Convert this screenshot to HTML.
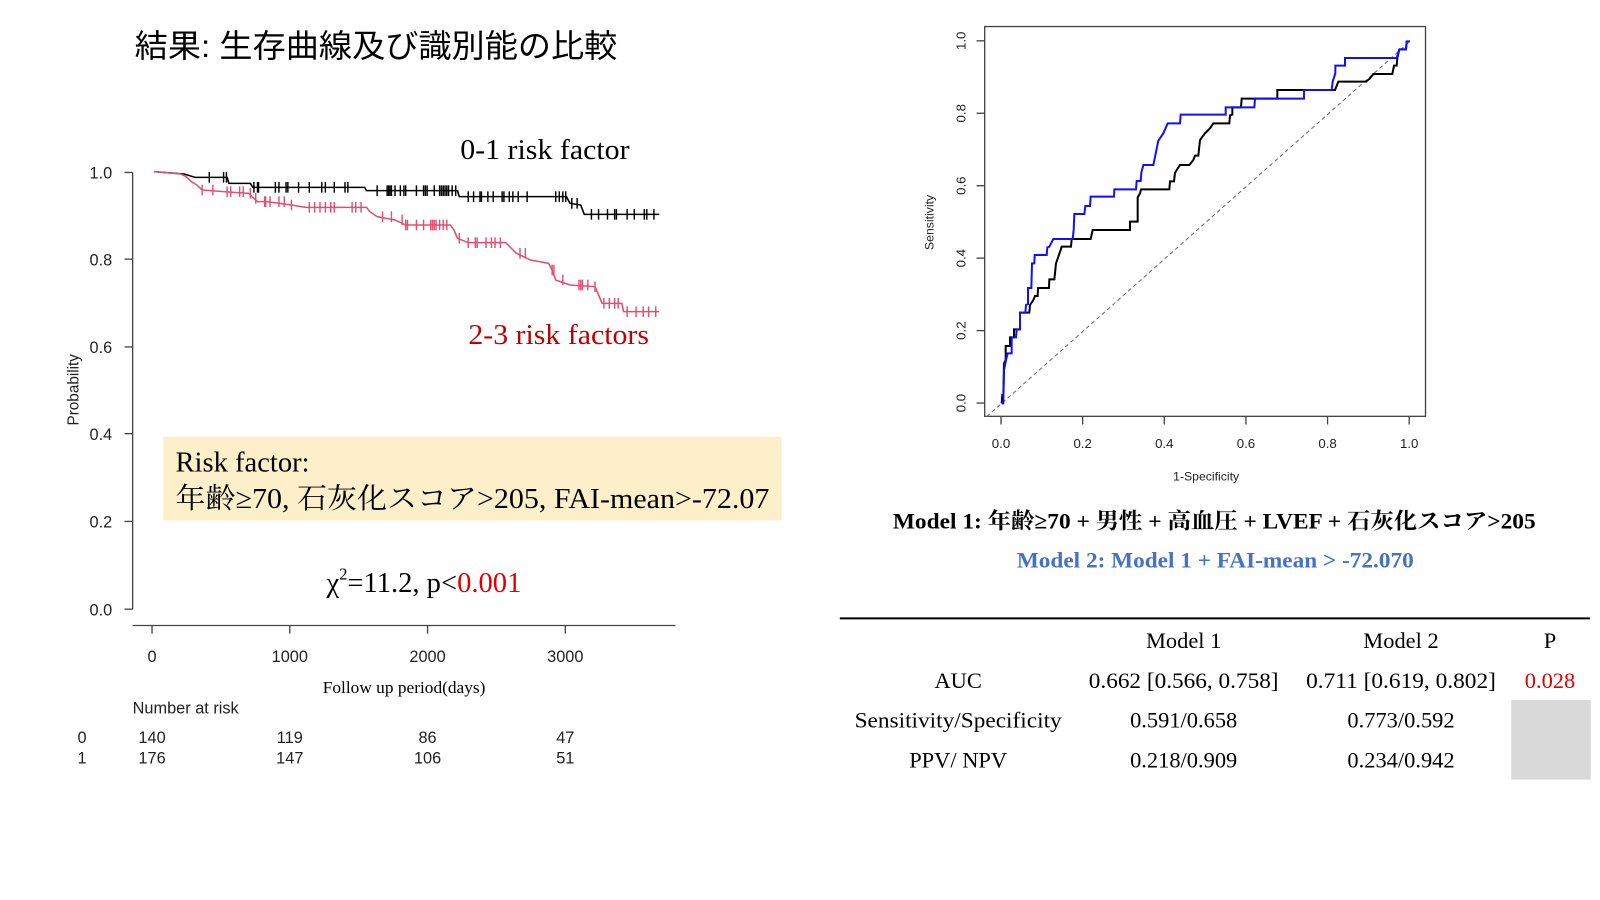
<!DOCTYPE html>
<html><head><meta charset="utf-8"><style>
html,body{margin:0;padding:0;background:#fff;}
svg{display:block;}
.s{font-family:"Liberation Sans","Noto Sans CJK JP",sans-serif;}
.r{font-family:"Liberation Serif","Noto Serif CJK SC","Noto Sans CJK JP",serif;}
</style></head><body>
<svg id="sv" width="1600" height="900" viewBox="0 0 1600 900" xmlns="http://www.w3.org/2000/svg">
<rect width="1600" height="900" fill="#fff"/>
<g transform="scale(1.020408)">
<text x="132" y="56" class="s" font-size="31" fill="#000" textLength="473" lengthAdjust="spacingAndGlyphs">結果: 生存曲線及び識別能の比較</text>

<!-- KM axes -->
<g stroke="#444" stroke-width="1.3" fill="none">
<line x1="130" y1="169" x2="130" y2="597"/>
<line x1="122" y1="169" x2="130" y2="169"/><line x1="122" y1="254" x2="130" y2="254"/>
<line x1="122" y1="340" x2="130" y2="340"/><line x1="122" y1="425" x2="130" y2="425"/>
<line x1="122" y1="511" x2="130" y2="511"/><line x1="122" y1="597" x2="130" y2="597"/>
<line x1="130" y1="613" x2="662" y2="613"/>
<line x1="149" y1="613" x2="149" y2="621"/><line x1="284" y1="613" x2="284" y2="621"/>
<line x1="419" y1="613" x2="419" y2="621"/><line x1="554" y1="613" x2="554" y2="621"/>
</g>
<g class="s" font-size="16" fill="#222" text-anchor="end">
<text x="110" y="175">1.0</text><text x="110" y="260">0.8</text><text x="110" y="346">0.6</text>
<text x="110" y="431">0.4</text><text x="110" y="517">0.2</text><text x="110" y="603">0.0</text>
</g>
<g class="s" font-size="16" fill="#222" text-anchor="middle">
<text x="149" y="649">0</text><text x="284" y="649">1000</text><text x="419" y="649">2000</text><text x="554" y="649">3000</text>
</g>
<text transform="translate(77,382) rotate(-90)" class="s" font-size="15" fill="#222" text-anchor="middle">Probability</text>
<text x="396" y="679" class="r" font-size="17" text-anchor="middle">Follow up period(days)</text>
<text x="130" y="699" class="s" font-size="16" fill="#222">Number at risk</text>
<g class="s" font-size="16" fill="#222">
<text x="76" y="728">0</text><text x="76" y="748">1</text>
<text x="149" y="728" text-anchor="middle">140</text><text x="284" y="728" text-anchor="middle">119</text><text x="419" y="728" text-anchor="middle">86</text><text x="554" y="728" text-anchor="middle">47</text>
<text x="149" y="748" text-anchor="middle">176</text><text x="284" y="748" text-anchor="middle">147</text><text x="419" y="748" text-anchor="middle">106</text><text x="554" y="748" text-anchor="middle">51</text>
</g>

<g id="km" transform="translate(117.6,147) scale(0.35,0.32667)" fill="none" stroke-width="4.5"></g>

<text x="451" y="156" class="r" font-size="28" textLength="166" lengthAdjust="spacingAndGlyphs">0-1 risk factor</text>
<text x="459" y="337" class="r" font-size="28" fill="#c00000" textLength="177" lengthAdjust="spacingAndGlyphs">2-3 risk factors</text>
<rect x="160" y="428" width="606" height="82" fill="#fdefc9"/>
<text x="172" y="462" class="r" font-size="28">Risk factor:</text>
<text x="172" y="498" class="r" font-size="28" textLength="582" lengthAdjust="spacingAndGlyphs">年齢≥70, 石灰化スコア&gt;205, FAI-mean&gt;-72.07</text>
<text x="320" y="580" class="r" font-size="28">χ<tspan font-size="16" dy="-12">2</tspan><tspan dy="12">=11.2, p&lt;</tspan><tspan fill="#e00000">0.001</tspan></text>

<!-- ROC -->
<rect x="965" y="26" width="432" height="382" fill="none" stroke="#444" stroke-width="1.3"/>
<g stroke="#444" stroke-width="1.3">
<line x1="981" y1="408" x2="981" y2="416"/><line x1="1061" y1="408" x2="1061" y2="416"/>
<line x1="1141" y1="408" x2="1141" y2="416"/><line x1="1221" y1="408" x2="1221" y2="416"/>
<line x1="1301" y1="408" x2="1301" y2="416"/><line x1="1381" y1="408" x2="1381" y2="416"/>
<line x1="957" y1="395" x2="965" y2="395"/><line x1="957" y1="324" x2="965" y2="324"/>
<line x1="957" y1="253" x2="965" y2="253"/><line x1="957" y1="182" x2="965" y2="182"/>
<line x1="957" y1="111" x2="965" y2="111"/><line x1="957" y1="40" x2="965" y2="40"/>
</g>
<g class="s" font-size="13" fill="#222" text-anchor="middle">
<text x="981" y="439">0.0</text><text x="1061" y="439">0.2</text><text x="1141" y="439">0.4</text>
<text x="1221" y="439">0.6</text><text x="1301" y="439">0.8</text><text x="1381" y="439">1.0</text>
<text transform="translate(946,395) rotate(-90)">0.0</text>
<text transform="translate(946,324) rotate(-90)">0.2</text>
<text transform="translate(946,253) rotate(-90)">0.4</text>
<text transform="translate(946,182) rotate(-90)">0.6</text>
<text transform="translate(946,111) rotate(-90)">0.8</text>
<text transform="translate(946,40) rotate(-90)">1.0</text>
<text x="1182" y="471" font-size="12">1-Specificity</text>
<text transform="translate(915,218) rotate(-90)" font-size="12">Sensitivity</text>
</g>
<g transform="translate(921.2,19.6) scale(0.32667)" fill="none">
<line x1="140" y1="1190" x2="1410" y2="64" stroke="#666" stroke-width="3" stroke-dasharray="12,9"/>
<polyline stroke="#000" stroke-width="6" points="185,1150 187,1125 190,1125 192,1030 197,1020 197,978 210,978 210,952 222,952 222,928 240,928 240,878 268,878 270,855 280,840 285,828 293,828 294,804 327,804 328,778 343,778 345,760 348,730 355,710 362,690 365,680 393,680 395,657 452,657 458,630 570,630 570,605 593,605 593,532 600,520 603,508 688,508 690,484 702,484 705,458 720,435 748,435 760,420 765,407 775,407 780,360 795,340 810,325 820,310 868,310 870,286 877,284 877,262 903,262 905,236 1012,236 1012,210 1185,210 1195,185 1278,185 1290,175 1300,162 1357,162 1362,137 1370,137 1372,114 1378,88 1398,88 1400,64"/>
<polyline stroke="#1010ff" stroke-width="6" points="185,1150 190,1150 192,1050 198,1020 203,1000 215,1000 215,952 228,952 230,928 240,928 240,878 256,878 258,855 264,852 264,804 274,804 276,730 283,730 284,705 320,705 322,682 328,680 340,657 398,657 401,630 403,582 433,582 436,558 450,558 452,530 522,530 523,508 588,508 590,483 602,483 604,458 610,435 640,435 655,362 670,340 683,310 720,310 722,284 857,284 857,262 943,262 945,236 1092,236 1092,210 1175,210 1178,185 1186,160 1186,137 1215,137 1215,114 1370,114 1378,88 1398,88 1400,64 1410,64"/>
</g>

<text x="1190" y="518" class="r" font-size="22" font-weight="bold" text-anchor="middle" textLength="630" lengthAdjust="spacingAndGlyphs">Model 1: 年齢≥70 + 男性 + 高血圧 + LVEF + 石灰化スコア&gt;205</text>
<text x="1191" y="556" class="r" font-size="22" font-weight="bold" fill="#4472c4" text-anchor="middle" textLength="389" lengthAdjust="spacingAndGlyphs">Model 2: Model 1 + FAI-mean &gt; -72.070</text>

<line x1="823" y1="606" x2="1558" y2="606" stroke="#000" stroke-width="2"/>
<rect x="1481" y="686" width="78" height="78" fill="#d9d9d9"/>
<g class="r" font-size="22" text-anchor="middle">
<text x="1160" y="635">Model 1</text><text x="1373" y="635">Model 2</text><text x="1519" y="635">P</text>
<text x="939" y="674">AUC</text>
<text x="1160" y="674" textLength="186" lengthAdjust="spacingAndGlyphs">0.662 [0.566, 0.758]</text>
<text x="1373" y="674" textLength="186" lengthAdjust="spacingAndGlyphs">0.711 [0.619, 0.802]</text>
<text x="1519" y="674" fill="#e00000">0.028</text>
<text x="939" y="713" textLength="203" lengthAdjust="spacingAndGlyphs">Sensitivity/Specificity</text>
<text x="1160" y="713">0.591/0.658</text><text x="1373" y="713">0.773/0.592</text>
<text x="939" y="752">PPV/ NPV</text>
<text x="1160" y="752">0.218/0.909</text><text x="1373" y="752">0.234/0.942</text>
</g>
</g>
</svg>
<script>
(function(){
var NS="http://www.w3.org/2000/svg",g=document.getElementById("km");
function draw(pts,col,ticks){
 var d=[];for(var i=0;i<pts.length;i++){d.push(pts[i][0]+","+pts[i][1]);}
 var p=document.createElementNS(NS,"polyline");p.setAttribute("points",d.join(" "));p.setAttribute("stroke",col);g.appendChild(p);
 ticks.forEach(function(x){var y=pts[0][1];for(var i=0;i<pts.length;i++){if(pts[i][0]<=x)y=pts[i][1];}
  var l=document.createElementNS(NS,"line");l.setAttribute("x1",x);l.setAttribute("x2",x);l.setAttribute("y1",y-16);l.setAttribute("y2",y+16);l.setAttribute("stroke",col);l.setAttribute("stroke-width","4");g.appendChild(l);});
}
var blk=[[95,65],[180,72],[210,82],[300,82],[305,100],[365,100],[372,112],[685,112],[690,122],[945,122],[950,140],[1250,140],[1260,160],[1290,165],[1300,193],[1510,193]];
var red=[[95,65],[170,72],[185,80],[200,95],[215,105],[230,120],[290,125],[360,130],[375,145],[385,155],[410,155],[480,165],[520,172],[690,172],[700,185],[720,200],[770,210],[800,225],[925,225],[935,240],[945,265],[975,278],[1080,278],[1110,310],[1150,330],[1200,340],[1210,360],[1220,390],[1260,405],[1330,410],[1340,435],[1350,460],[1405,460],[1410,485],[1510,485]];
var bt=[250,290,298,375,385,388,435,445,465,470,500,530,565,575,600,630,638,720,748,752,756,760,770,785,795,800,830,850,855,860,880,895,900,905,910,915,920,930,940,975,990,1008,1012,1030,1045,1070,1075,1090,1100,1115,1140,1220,1230,1240,1248,1265,1280,1320,1340,1365,1385,1390,1420,1440,1468,1475,1495];
var rt=[230,260,300,310,335,345,365,380,405,408,420,445,460,480,530,545,560,575,590,600,650,660,675,735,760,790,800,805,830,850,870,875,880,885,895,905,915,950,975,995,1000,1025,1040,1050,1065,1120,1135,1210,1215,1240,1285,1290,1295,1310,1330,1355,1370,1385,1395,1420,1445,1465,1480,1500];
draw(blk,"#000",bt);draw(red,"#e05070",rt);
})();
</script>
</body></html>
